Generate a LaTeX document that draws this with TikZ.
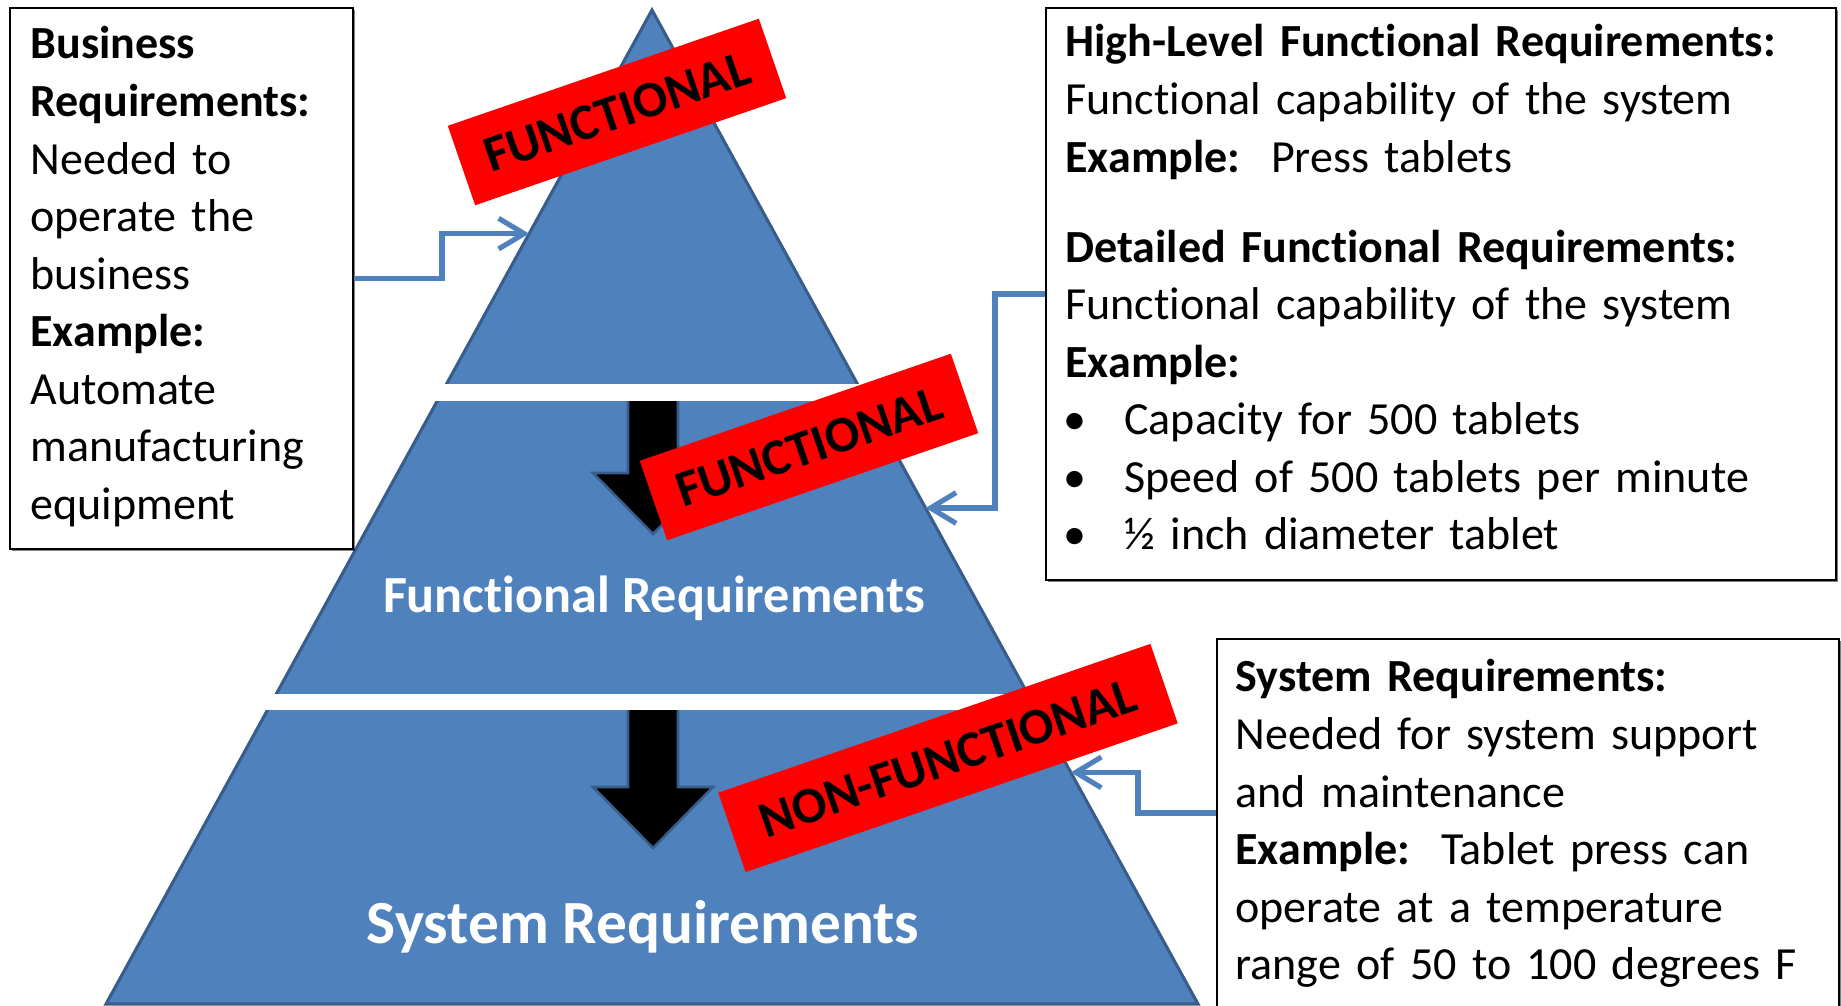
\documentclass[tikz,border=0pt]{standalone}
\usepackage{fontspec}
\setmainfont{Carlito}[Ligatures=NoCommon]
\usetikzlibrary{arrows.meta,calc,shadows}
\definecolor{pyrblue}{HTML}{4F81BD}
\definecolor{pyredge}{HTML}{385D8A}
\newlength\pxu
\setlength\pxu{0.3911pt}
\newcommand\boxfont{\fontsize{18}{22.5}\selectfont}
\newcommand\bul{\makebox[23pt][l]{\hspace{-0.6pt}•}}

\begin{document}
\begin{tikzpicture}[x=0.3911pt, y=-0.3911pt,
    infobox/.style={draw=black, line width=0.8pt, fill=white, anchor=north west, inner sep=0pt,
        drop shadow={shadow xshift=0.6pt, shadow yshift=-0.6pt, opacity=0.5, fill=black}},
    infotext/.style={anchor=base west, inner sep=0pt, align=left, font=\boxfont},
    redtag/.style={fill=red, rotate=19, inner sep=0pt, minimum height=84\pxu, font=\fontsize{20}{24}\selectfont\bfseries},
    link/.style={draw=pyrblue, line width=2pt, -{Straight Barb[length=10pt,width=12pt]}}]
    \useasboundingbox (0,0) rectangle (1841,1006);

    \coordinate (apex) at (652,10);
    \coordinate (baseL) at (106,1004);
    \coordinate (baseR) at (1198,1004);
    \filldraw[fill=pyrblue, draw=pyredge, line width=1.2pt] (apex) -- (baseL) -- (baseR) -- cycle;

    \foreach \top/\neck/\tip in {395/473/534, 704/787/848}
        \filldraw[fill=black, draw=pyredge, line width=1pt] (628,\top) -- (678,\top) -- (678,\neck) -- (713,\neck)
            -- (653,\tip) -- (593,\neck) -- (628,\neck) -- cycle;

    \fill[white] (380,384) rectangle (900,401);
    \fill[white] (200,694) rectangle (1050,710);

    \node[font=\fontsize{20.4}{24}\selectfont\bfseries, text=white, anchor=base] (funlabel) at (654,613) {Functional Requirements};
    \node[font=\fontsize{24}{29}\selectfont\bfseries, text=white, anchor=base] (syslabel) at (643,943) {System Requirements};

    \node[redtag, minimum width=329\pxu] (tagA) at (617,112) {FUNCTIONAL};
    \node[redtag, minimum width=329\pxu] (tagB) at (809,447) {FUNCTIONAL};
    \node[redtag, minimum width=457\pxu] (tagC) at (948,758) {NON-FUNCTIONAL};

    \node[infobox, minimum width=343\pxu, minimum height=541\pxu] (busbox) at (9,7) {};
    \node[infobox, minimum width=790\pxu, minimum height=572\pxu] (funbox) at (1045,7) {};
    \node[infobox, minimum width=622\pxu, minimum height=402\pxu] (sysbox) at (1216,638) {};

    \node[infotext, text width=320\pxu] (bustext) at (30,59) {\textbf{Business}\\ \textbf{Requirements:}\\ Needed to\\ operate the\\ business\\ \textbf{Example:}\\ Automate\\ manufacturing\\ equipment};
    \node[infotext, text width=765\pxu] (funtext) at (1065,57) {\textbf{High-Level Functional Requirements:}\\
        Functional capability of the system\\
        \textbf{Example:}\ \ Press tablets\\[12.7pt]
        \textbf{Detailed Functional Requirements:}\\
        Functional capability of the system\\
        \textbf{Example:}\\
        \bul Capacity for 500 tablets\\
        \bul Speed of 500 tablets per minute\\
        \bul ½ inch diameter tablet};
    \node[infotext, text width=595\pxu] (systext) at (1235,692) {\textbf{System Requirements:}\\ Needed for system support\\ and maintenance\\ \textbf{Example:}\ \ Tablet press can\\ operate at a temperature\\ range of 50 to 100 degrees F};

    \coordinate (tipA) at ($(apex)!0.225!(baseL)$);
    \coordinate (tipB) at ($(apex)!0.501!(baseR)$);
    \coordinate (tipC) at ($(apex)!0.767!(baseR)$);
    \coordinate (sysport) at ($(sysbox.north west)+(0,175)$);
    \draw[link] (busbox.east) -- ++(88,0) |- (tipA);
    \draw[link] (funbox.west) -- ++(-50,0) |- (tipB);
    \draw[link] (sysport) -- ++(-78,0) |- (tipC);
\end{tikzpicture}
\end{document}
